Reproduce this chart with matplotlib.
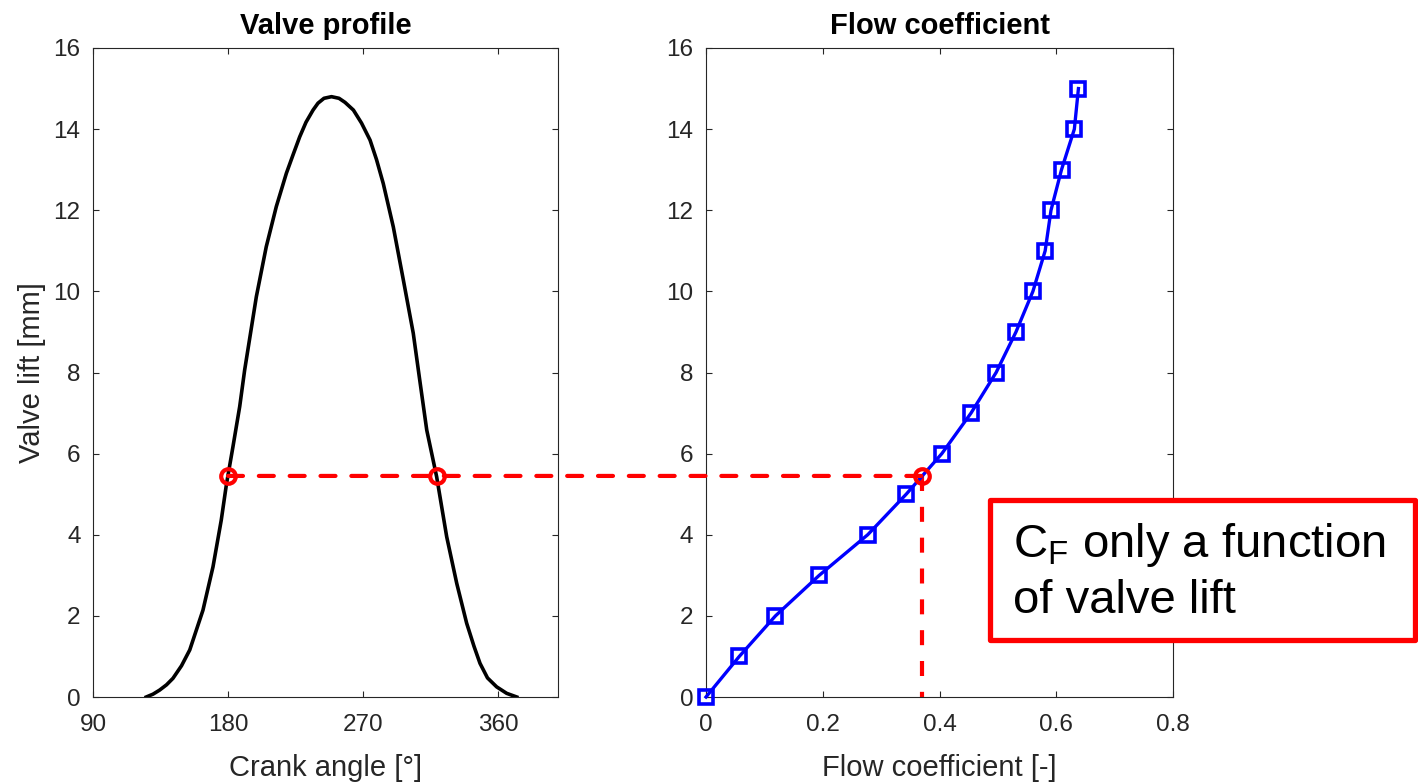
import matplotlib
matplotlib.use("Agg")
import matplotlib.pyplot as plt
from matplotlib.patches import ConnectionPatch, Rectangle

plt.rcParams['font.family'] = ['Liberation Sans', 'DejaVu Sans']
plt.rcParams['mathtext.fontset'] = 'custom'
plt.rcParams['mathtext.rm'] = 'Liberation Sans'
plt.rcParams['mathtext.it'] = 'Liberation Sans:italic'

# valve lift profile vs crank angle
crank_angle = [125.5, 130.0, 134.4, 139.0, 143.3, 149.0, 154.5, 163.3, 170.0, 175.5,
               178.9, 183.3, 187.8, 191.1, 198.9, 205.5, 212.2, 218.9, 223.5, 227.8,
               232.0, 236.7, 240.0, 244.0, 249.0, 254.0, 258.0, 263.6, 269.0, 274.7,
               279.0, 283.5, 290.2, 296.9, 303.5, 307.5, 312.5, 319.1, 325.8, 332.5,
               339.1, 344.0, 348.0, 353.0, 359.1, 365.8, 372.5]
valve_lift = [0.0, 0.07, 0.17, 0.30, 0.46, 0.77, 1.16, 2.14, 3.21, 4.36,
              5.23, 6.17, 7.16, 8.06, 9.87, 11.10, 12.09, 12.91, 13.38, 13.81,
              14.17, 14.47, 14.64, 14.76, 14.80, 14.76, 14.66, 14.47, 14.15, 13.73,
              13.25, 12.66, 11.59, 10.28, 8.97, 7.90, 6.58, 5.43, 3.95, 2.80,
              1.82, 1.25, 0.83, 0.47, 0.25, 0.09, 0.0]

# flow coefficient measured at each lift
cf_lift = [0, 1, 2, 3, 4, 5, 6, 7, 8, 9, 10, 11, 12, 13, 14, 15]
cf_value = [0.0, 0.057, 0.119, 0.194, 0.277, 0.343, 0.404, 0.454,
            0.497, 0.531, 0.560, 0.581, 0.591, 0.609, 0.631, 0.638]

# operating point picked off both panels
op_lift = 5.45
op_angles = [180, 319]
op_cf = 0.37

ax_col = '#262626'
W, H = 1418, 784

fig = plt.figure(figsize=(W / 100, H / 100), dpi=100)
ax1 = fig.add_axes([93 / W, 1 - 697 / H, 465 / W, 649 / H])
ax2 = fig.add_axes([706 / W, 1 - 697 / H, 467 / W, 649 / H])

ax1.plot(crank_angle, valve_lift, color='black', lw=2.6)
ax1.set_xlim(90, 400)
ax1.set_ylim(0, 16)
ax1.set_xticks([90, 180, 270, 360])
ax1.set_yticks(range(0, 17, 2))
ax1.set_title('Valve profile', fontsize=21, fontweight='bold', pad=10)
ax1.set_xlabel('Crank angle [°]', fontsize=21, color=ax_col, labelpad=13)
ax1.set_ylabel('Valve lift [mm]', fontsize=21, color=ax_col, labelpad=5)

ax2.plot(cf_value, cf_lift, color='blue', lw=2.4, marker='s', ms=9.5,
         mfc='none', mec='blue', mew=2.6, clip_on=False, zorder=3)
ax2.set_xlim(0, 0.8)
ax2.set_ylim(0, 16)
ax2.set_xticks([0, 0.2, 0.4, 0.6, 0.8])
ax2.set_xticklabels(['0', '0.2', '0.4', '0.6', '0.8'])
ax2.set_yticks(range(0, 17, 2))
ax2.set_title('Flow coefficient', fontsize=21, fontweight='bold', pad=10)
ax2.set_xlabel('Flow coefficient [-]', fontsize=21, color=ax_col, labelpad=13)

for ax in (ax1, ax2):
    ax.tick_params(direction='in', top=True, right=True, length=4.5, width=0.8,
                   color=ax_col, labelcolor=ax_col, labelsize=17.5)
    ax.tick_params(axis='y', pad=9)
    ax.tick_params(axis='x', pad=12)
    for s in ax.spines.values():
        s.set_color(ax_col)
        s.set_linewidth(0.8)

dash = (0, (3.6, 3.8))

# vertical drop to the flow coefficient axis
ax2.plot([op_cf, op_cf], [op_lift, 0], color='red', lw=3, linestyle=dash, zorder=2)

# horizontal line joining the two panels
con = ConnectionPatch(xyA=(180, op_lift), coordsA=ax1.transData,
                      xyB=(op_cf, op_lift), coordsB=ax2.transData,
                      color='red', lw=3, linestyle=dash)
fig.add_artist(con)

ax1.plot(op_angles, [op_lift, op_lift], 'o', ms=10.5, mfc='none', mec='red', mew=3, zorder=4)
ax2.plot([op_cf], [op_lift], 'o', ms=10.5, mfc='none', mec='red', mew=3, zorder=4)

# annotation box
box = Rectangle((990 / W, 1 - 640 / H), (1415 - 990) / W, 140 / H,
                transform=fig.transFigure, facecolor='white', edgecolor='red',
                lw=3.8, joinstyle='round', zorder=5)
fig.add_artist(box)
fig.text(1013 / W, 1 - 557 / H, r'C$_{\mathrm{F}}$ only a function', fontsize=34,
         va='baseline', ha='left', color='black', zorder=6)
fig.text(1013 / W, 1 - 613 / H, 'of valve lift', fontsize=34,
         va='baseline', ha='left', color='black', zorder=6)

fig.savefig('out.png', dpi=100)
